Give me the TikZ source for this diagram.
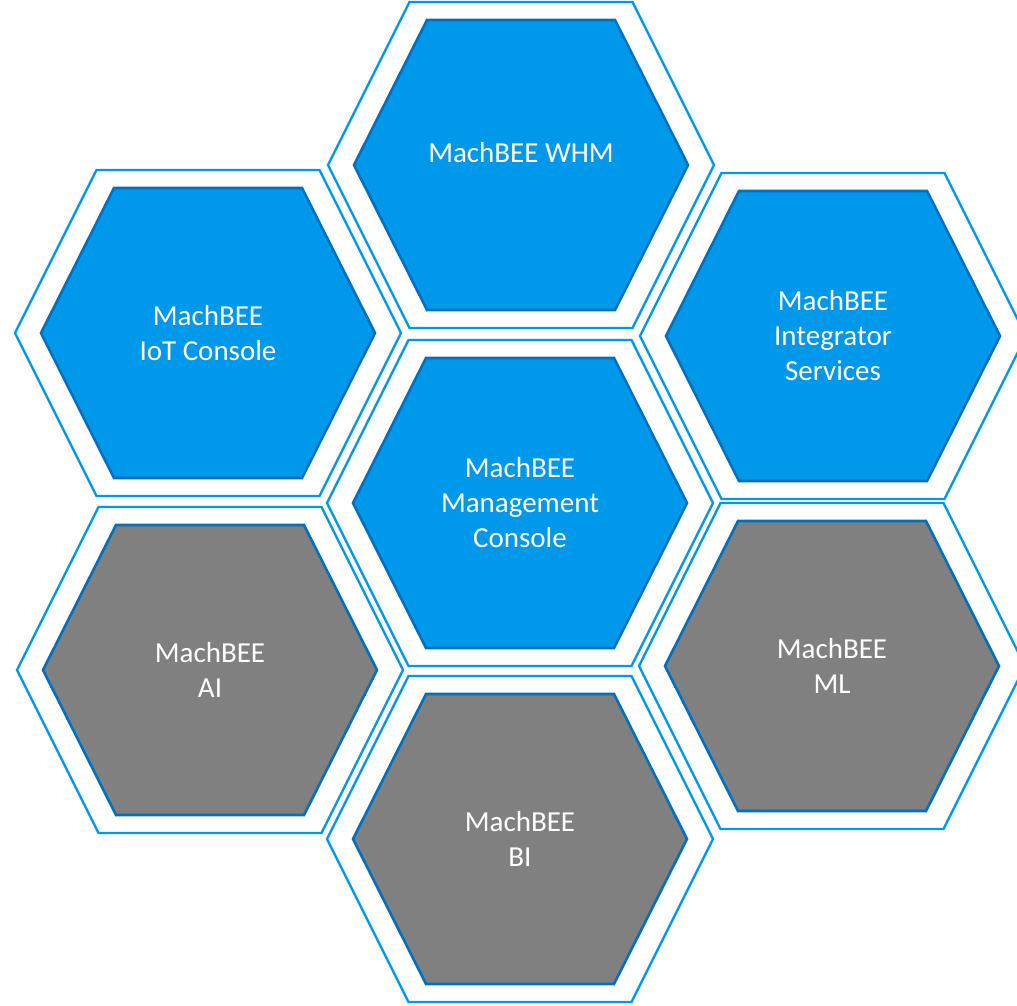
\documentclass[tikz,border=0pt]{standalone}
\usepackage{fontspec}
\setmainfont{Carlito}

\definecolor{hexblue}{RGB}{0,152,234}
\definecolor{hexedge}{RGB}{0,112,192}
\definecolor{hexgray}{RGB}{128,128,128}

\tikzset{
  rim/.style={draw=hexblue, line width=1.2pt, line join=miter},
  bluecell/.style={fill=hexblue, draw=hexedge, line width=1.3pt},
  graycell/.style={fill=hexgray, draw=hexedge, line width=1.3pt},
  cell label/.style={text=white, align=center, font=\fontsize{14.5}{17.5}\selectfont}
}

% outer rim and filled cell of one hexagon around a named centre
\newcommand{\hexrim}[1]{\draw[rim, shift={(#1)}] (-193,0) -- (-111.5,-163) -- (111.5,-163) -- (193,0) -- (111.5,163) -- (-111.5,163) -- cycle;}
\newcommand{\hexcell}[2]{\draw[#2, shift={(#1)}] (-167,0) -- (-94,-145) -- (94,-145) -- (167,0) -- (94,145) -- (-94,145) -- cycle;}

\begin{document}
\begin{tikzpicture}[x=0.5pt, y=-0.5pt]
	\useasboundingbox (0,0) rectangle (1017,1006);
	\clip (0,0) rectangle (1017,1006);
	\coordinate (whm)   at (521,165);
	\coordinate (iot)   at (208,333);
	\coordinate (integ) at (833,336);
	\coordinate (mgmt)  at (520,503);
	\coordinate (ai)    at (210,670);
	\coordinate (ml)    at (832,666);
	\coordinate (bi)    at (520,839);
	\foreach \c in {whm,iot,integ,mgmt,ai,ml,bi}{\hexrim{\c}}
	\foreach \c in {whm,iot,integ,mgmt}{\hexcell{\c}{bluecell}}
	\foreach \c in {ai,ml,bi}{\hexcell{\c}{graycell}}
	\node[cell label] (whmtext) at ([yshift=6pt]whm) {MachBEE WHM};
	\node[cell label] (iottext) at (iot) {MachBEE\\IoT Console};
	\node[cell label] (integtext) at (integ) {MachBEE\\Integrator\\Services};
	\node[cell label] (mgmttext) at (mgmt) {MachBEE\\Management\\Console};
	\node[cell label] (aitext) at (ai) {MachBEE\\AI};
	\node[cell label] (mltext) at (ml) {MachBEE\\ML};
	\node[cell label] (bitext) at (bi) {MachBEE\\BI};
\end{tikzpicture}
\end{document}
